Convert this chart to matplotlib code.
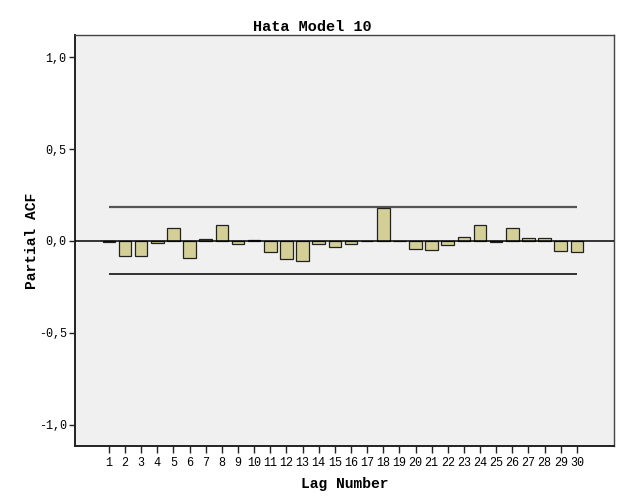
import matplotlib
matplotlib.use("Agg")
import matplotlib.pyplot as plt
from matplotlib.ticker import FuncFormatter

lags = list(range(1, 31))
pacf = [-0.003, -0.083, -0.083, -0.009, 0.072, -0.090, 0.013, 0.087, -0.015, 0.007,
        -0.058, -0.096, -0.110, -0.014, -0.035, -0.015, -0.002, 0.178, 0.002, -0.045,
        -0.049, -0.024, 0.022, 0.085, -0.003, 0.072, 0.015, 0.018, -0.054, -0.058]
upper_conf = 0.184
lower_conf = -0.181

mono = "Liberation Mono"

fig = plt.figure(figsize=(6.25, 5), dpi=100)
ax = fig.add_axes([0.12, 0.108, 0.8624, 0.822])
ax.set_facecolor("#f0f0f0")

ax.bar(lags, pacf, width=0.78, color="#d4cf97", edgecolor="#222222", linewidth=0.9, zorder=3)
ax.axhline(0, color="black", linewidth=1.1, zorder=4)
ax.hlines([upper_conf], lags[0], lags[-1], color="#555555", linewidth=1.6, zorder=2)
ax.hlines([lower_conf], lags[0], lags[-1], color="#222222", linewidth=1.3, zorder=2)

ax.set_xlim(-1.1, 32.3)
ax.set_ylim(-1.115, 1.12)
ax.set_xticks(lags)
ax.set_xticklabels([str(l) for l in lags], fontfamily=mono, fontsize=8.5)
ax.set_yticks([-1.0, -0.5, 0.0, 0.5, 1.0])
ax.yaxis.set_major_formatter(FuncFormatter(lambda v, p: f"{v:.1f}".replace(".", ",")))
for t in ax.get_yticklabels():
    t.set_fontfamily(mono)
    t.set_fontsize(8.5)
ax.tick_params(axis="x", length=5, width=1, color="#222222", pad=3)
ax.tick_params(axis="y", length=4, width=1, color="#222222", pad=2)

for side in ["left", "bottom"]:
    ax.spines[side].set_color("#222222")
    ax.spines[side].set_linewidth(1.4)
for side in ["top", "right"]:
    ax.spines[side].set_color("#444444")
    ax.spines[side].set_linewidth(1.0)

ax.set_xlabel("Lag Number", fontfamily=mono, fontweight="bold", fontsize=10.5, labelpad=6)
ax.set_ylabel("Partial ACF", fontfamily=mono, fontweight="bold", fontsize=10.5, va="center")
ax.yaxis.set_label_coords(-0.08, 0.5)
fig.text(0.5, 0.946, "Hata Model 10", ha="center", va="center",
         fontfamily=mono, fontweight="bold", fontsize=11)

fig.savefig("out.png", dpi=100, facecolor="white")
